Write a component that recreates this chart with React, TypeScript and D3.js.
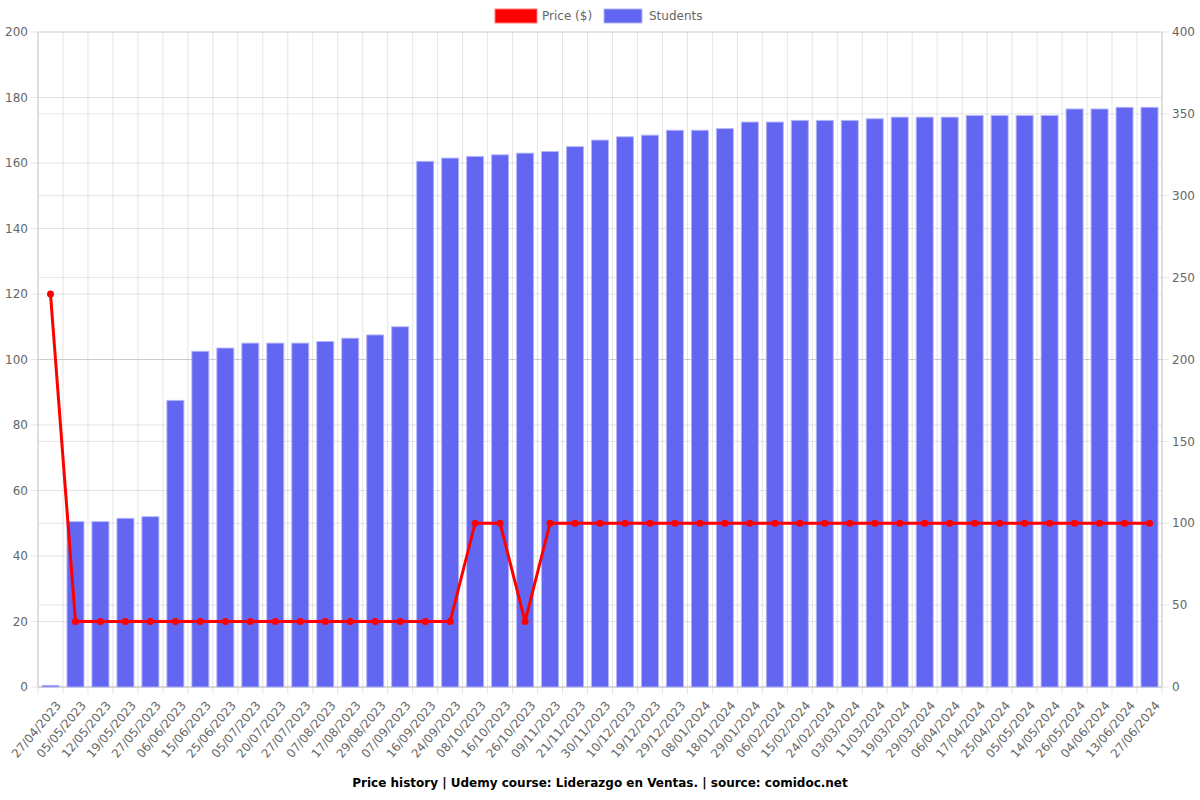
import React from "react";
import * as d3 from "d3";

const dates = [
  "27/04/2023", "05/05/2023", "12/05/2023", "19/05/2023", "27/05/2023", "06/06/2023",
  "15/06/2023", "25/06/2023", "05/07/2023", "20/07/2023", "27/07/2023", "07/08/2023",
  "17/08/2023", "29/08/2023", "07/09/2023", "16/09/2023", "24/09/2023", "08/10/2023",
  "16/10/2023", "26/10/2023", "09/11/2023", "21/11/2023", "30/11/2023", "10/12/2023",
  "19/12/2023", "29/12/2023", "08/01/2024", "18/01/2024", "29/01/2024", "06/02/2024",
  "15/02/2024", "24/02/2024", "03/03/2024", "11/03/2024", "19/03/2024", "29/03/2024",
  "06/04/2024", "17/04/2024", "25/04/2024", "05/05/2024", "14/05/2024", "26/05/2024",
  "04/06/2024", "13/06/2024", "27/06/2024",
];

const students = [
  1, 101, 101, 103, 104, 175, 205, 207, 210, 210, 210, 211, 213, 215, 220,
  321, 323, 324, 325, 326, 327, 330, 334, 336, 337, 340, 340, 341, 345, 345,
  346, 346, 346, 347, 348, 348, 348, 349, 349, 349, 349, 353, 353, 354, 354,
];

const prices = [
  120, 20, 20, 20, 20, 20, 20, 20, 20, 20, 20, 20, 20, 20, 20,
  20, 20, 50, 50, 20, 50, 50, 50, 50, 50, 50, 50, 50, 50, 50,
  50, 50, 50, 50, 50, 50, 50, 50, 50, 50, 50, 50, 50, 50, 50,
];

const leftTicks = [0, 20, 40, 60, 80, 100, 120, 140, 160, 180, 200];
const rightTicks = [0, 50, 100, 150, 200, 250, 300, 350, 400];

const title = "Price history | Udemy course: Liderazgo en Ventas. | source: comidoc.net";

const W = 1200;
const H = 800;
const M = { left: 38, right: 1162, top: 32, bottom: 687 };
const FONT = "'DejaVu Sans', sans-serif";
const TXT = "#666";
const GRID = "rgba(0,0,0,0.1)";
const BAR = "#6366F1";
const RED = "#FF0000";

export default function App() {
  const x = d3.scaleBand<string>().domain(dates).range([M.left, M.right]).paddingInner(0).paddingOuter(0);
  const yL = d3.scaleLinear().domain([0, 200]).range([M.bottom, M.top]);
  const yR = d3.scaleLinear().domain([0, 400]).range([M.bottom, M.top]);
  const bw = x.bandwidth();
  const barW = bw * 0.68;
  const cx = (d: string) => (x(d) as number) + bw / 2;

  const line = d3
    .line<number>()
    .x((_, i) => cx(dates[i]))
    .y((v) => yL(v));

  const boundaries = d3.range(dates.length + 1).map((i) => M.left + i * bw);

  return (
    <div style={{ position: "fixed", left: 0, top: 0 }}>
      <svg width={W} height={H} style={{ display: "block", background: "#fff" }} fontFamily={FONT}>
        {/* vertical grid */}
        {boundaries.map((bx, i) => (
          <line key={"vg" + i} x1={bx} x2={bx} y1={M.top} y2={M.bottom + 7} stroke={GRID} />
        ))}
        {/* horizontal grid (left) */}
        {leftTicks.map((t) => (
          <line key={"hl" + t} x1={M.left - 7} x2={M.right} y1={yL(t)} y2={yL(t)} stroke={GRID} />
        ))}
        {/* horizontal grid (right) */}
        {rightTicks.map((t) => (
          <line key={"hr" + t} x1={M.left} x2={M.right + 7} y1={yR(t)} y2={yR(t)} stroke={GRID} />
        ))}
        {/* axis lines */}
        <line x1={M.left} x2={M.left} y1={M.top} y2={M.bottom} stroke="#ccc" />
        <line x1={M.right} x2={M.right} y1={M.top} y2={M.bottom} stroke="#ccc" />
        <line x1={M.left} x2={M.right} y1={M.bottom} y2={M.bottom} stroke="#ccc" />

        {/* bars */}
        {students.map((v, i) => (
          <rect
            key={"b" + i}
            x={cx(dates[i]) - barW / 2}
            y={yR(v)}
            width={barW}
            height={M.bottom - yR(v)}
            fill={BAR}
            stroke="rgba(180,182,250,0.9)"
            strokeWidth={1}
          />
        ))}

        {/* price line */}
        <path d={line(prices) || ""} fill="none" stroke={RED} strokeWidth={3} strokeLinejoin="round" />
        {prices.map((v, i) => (
          <circle key={"p" + i} cx={cx(dates[i])} cy={yL(v)} r={3.5} fill={RED} />
        ))}

        {/* left ticks */}
        {leftTicks.map((t) => (
          <text key={"lt" + t} x={M.left - 10} y={yL(t)} dy="0.35em" textAnchor="end" fontSize={12} fill={TXT}>
            {t}
          </text>
        ))}
        {/* right ticks */}
        {rightTicks.map((t) => (
          <text key={"rt" + t} x={M.right + 10} y={yR(t)} dy="0.35em" textAnchor="start" fontSize={12} fill={TXT}>
            {t}
          </text>
        ))}
        {/* x labels */}
        {dates.map((d) => (
          <text
            key={"xl" + d}
            transform={`translate(${cx(d) + 8},${M.bottom + 16}) rotate(-50)`}
            textAnchor="end"
            dy="0.35em"
            fontSize={12}
            fill={TXT}
          >
            {d}
          </text>
        ))}

        {/* legend */}
        <rect x={495} y={9} width={42} height={14} fill={RED} stroke="rgba(255,120,120,1)" strokeWidth={1} />
        <text x={542} y={16} dy="0.35em" fontSize={12} fill={TXT}>Price ($)</text>
        <rect x={604} y={9} width={38} height={14} fill={BAR} stroke="rgba(180,182,250,0.9)" strokeWidth={1} />
        <text x={649} y={16} dy="0.35em" fontSize={12} fill={TXT}>Students</text>

        {/* title */}
        <text x={600} y={783} dy="0.35em" textAnchor="middle" fontSize={12} fontWeight="bold" fill="#000">
          {title}
        </text>
      </svg>
    </div>
  );
}
